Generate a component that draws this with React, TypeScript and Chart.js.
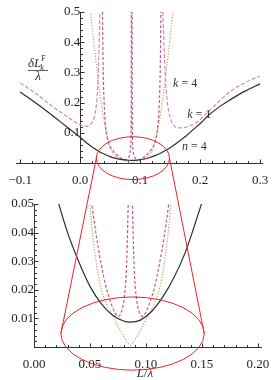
import React, { useEffect, useRef } from "react";
import { Chart, registerables } from "chart.js";
Chart.register(...registerables);

// ---- data ----
const blackX = [-0.1, -0.075, -0.05, -0.025, 0, 0.01, 0.02, 0.03, 0.04, 0.05, 0.06, 0.07, 0.08, 0.086, 0.095, 0.105, 0.115, 0.125, 0.135, 0.145, 0.155, 0.165, 0.178, 0.19, 0.2, 0.217, 0.235, 0.25, 0.275, 0.3];
const blackY = [0.235, 0.2, 0.163, 0.124, 0.085, 0.068, 0.053, 0.04, 0.0298, 0.0212, 0.0152, 0.0112, 0.0091, 0.0087, 0.0094, 0.0124, 0.0175, 0.0243, 0.033, 0.0445, 0.057, 0.072, 0.092, 0.113, 0.13, 0.163, 0.19, 0.209, 0.238, 0.262];

const dotX = [0.015, 0.02, 0.025, 0.03, 0.035, 0.04, 0.045, 0.049, 0.054, 0.059, 0.065, 0.0705, 0.075, 0.08, 0.083, 0.086, 0.089, 0.092, 0.097, 0.1015, 0.107, 0.113, 0.118, 0.123, 0.127, 0.132, 0.137, 0.142, 0.147, 0.152, 0.157];
const dotY = [0.54, 0.45, 0.36, 0.28, 0.2, 0.14, 0.09, 0.055, 0.034, 0.022, 0.0148, 0.0108, 0.0072, 0.0038, 0.0018, 0.0006, 0.0018, 0.0038, 0.0072, 0.0108, 0.0148, 0.022, 0.034, 0.055, 0.09, 0.14, 0.2, 0.28, 0.36, 0.45, 0.54];

const k1LeftX = [-0.1, -0.075, -0.05, -0.025, -0.01, 0, 0.008, 0.015, 0.02, 0.025, 0.028, 0.03, 0.032, 0.033, 0.034];
const k1LeftY = [0.265, 0.232, 0.193, 0.158, 0.138, 0.126, 0.121, 0.124, 0.135, 0.165, 0.215, 0.29, 0.41, 0.5, 0.6];
const k1RightX = [0.137, 0.138, 0.14, 0.142, 0.145, 0.15, 0.156, 0.163, 0.175, 0.195, 0.217, 0.25, 0.275, 0.3];
const k1RightY = [0.6, 0.5, 0.38, 0.29, 0.21, 0.152, 0.125, 0.116, 0.118, 0.136, 0.176, 0.236, 0.266, 0.288];

const k4LeftX = [0.0368, 0.0375, 0.0385, 0.04, 0.042, 0.045, 0.048, 0.052, 0.056, 0.06, 0.064, 0.068, 0.072, 0.075, 0.078, 0.0805, 0.0825, 0.084, 0.085, 0.0855];
const k4LeftY = [0.6, 0.45, 0.3, 0.2, 0.13, 0.085, 0.063, 0.049, 0.038, 0.029, 0.0215, 0.0162, 0.0122, 0.0107, 0.0122, 0.017, 0.027, 0.048, 0.12, 0.6];
const k4RightX = [0.0865, 0.087, 0.088, 0.0895, 0.0915, 0.094, 0.097, 0.1, 0.104, 0.108, 0.112, 0.116, 0.12, 0.124, 0.127, 0.13, 0.132, 0.1335, 0.1345, 0.1352];
const k4RightY = [0.6, 0.12, 0.048, 0.027, 0.017, 0.0122, 0.0107, 0.0122, 0.0162, 0.0215, 0.029, 0.038, 0.049, 0.063, 0.085, 0.13, 0.2, 0.3, 0.45, 0.6];

// ---- ticks ----
const topXTicks = [-0.1, 0, 0.1, 0.2, 0.3];
const topXLabels = ["\u22120.1", "0.0", "0.1", "0.2", "0.3"];
const topYTicks = [0.1, 0.2, 0.3, 0.4, 0.5];
const topYLabels = ["0.1", "0.2", "0.3", "0.4", "0.5"];
const botXTicks = [0, 0.05, 0.1, 0.15, 0.2];
const botXLabels = ["0.00", "0.05", "0.10", "0.15", "0.20"];
const botYTicks = [0.01, 0.02, 0.03, 0.04, 0.05];
const botYLabels = ["0.01", "0.02", "0.03", "0.04", "0.05"];

// zoom annotation (data coordinates of each plot)
const topZoom = { cx: 0.088, cy: 0.016, rx: 0.061, ry: 0.071 };
const botZoom = { cx: 0.088, cy: 0.0047, rx: 0.064, ry: 0.0128 };

const SERIF = '"Liberation Serif", "DejaVu Serif", serif';

function pts(xs: number[], ys: number[]) {
  return xs.map((x, i) => ({ x, y: ys[i] }));
}

function datasets() {
  return [
    {
      data: pts(blackX, blackY),
      borderColor: "#2e2e2e",
      borderWidth: 1.2,
    },
    {
      data: [...pts(k4LeftX, k4LeftY), { x: 0.086, y: null }, ...pts(k4RightX, k4RightY)],
      borderColor: "#c4558f",
      borderWidth: 1.2,
      borderDash: [3, 2],
    },
    {
      data: [...pts(k1LeftX, k1LeftY), { x: 0.086, y: null }, ...pts(k1RightX, k1RightY)],
      borderColor: "#d888b6",
      borderWidth: 1.2,
      borderDash: [4, 2],
    },
    {
      data: pts(dotX, dotY),
      borderColor: "#bba75a",
      borderWidth: 1.2,
      borderDash: [1.2, 1.6],
    },
  ].map((d) => ({
    ...d,
    pointRadius: 0,
    fill: false,
    cubicInterpolationMode: "monotone" as const,
    spanGaps: false,
  }));
}

const axesPlugin = {
  id: "mmaAxes",
  beforeDatasetsDraw(chart: any, _args: any, opts: any) {
    const { ctx, chartArea } = chart;
    const xs = chart.scales.x;
    const ys = chart.scales.y;
    const x0 = Math.round(xs.getPixelForValue(0)) + 0.5;
    const y0 = Math.round(ys.getPixelForValue(0)) + 0.5;
    ctx.save();
    ctx.strokeStyle = "#333";
    ctx.lineWidth = 1;
    ctx.beginPath();
    ctx.moveTo(chartArea.left, y0);
    ctx.lineTo(chartArea.right, y0);
    ctx.moveTo(x0, chartArea.top);
    ctx.lineTo(x0, y0);
    // x ticks
    const nx0 = Math.ceil(xs.min / opts.xMinor - 1e-6);
    const nx1 = Math.floor(xs.max / opts.xMinor + 1e-6);
    for (let n = nx0; n <= nx1; n++) {
      const v = n * opts.xMinor;
      const major = n % opts.xEvery === 0;
      const p = Math.round(xs.getPixelForValue(v)) + 0.5;
      ctx.moveTo(p, y0);
      ctx.lineTo(p, y0 - (major ? 4 : 2.5));
    }
    const ny1 = Math.floor(ys.max / opts.yMinor + 1e-6);
    for (let n = 1; n <= ny1; n++) {
      const v = n * opts.yMinor;
      const major = n % opts.yEvery === 0;
      const p = Math.round(ys.getPixelForValue(v)) + 0.5;
      ctx.moveTo(x0, p);
      ctx.lineTo(x0 + (major ? 4 : 2.5), p);
    }
    ctx.stroke();
    ctx.restore();
  },
};

const topTextPlugin = {
  id: "topText",
  afterDraw(chart: any) {
    const { ctx } = chart;
    const xs = chart.scales.x;
    const ys = chart.scales.y;
    ctx.save();
    ctx.fillStyle = "#333";
    ctx.textBaseline = "alphabetic";
    ctx.textAlign = "left";
    // y axis title: δL_k^F / λ
    ctx.font = `italic 13px ${SERIF}`;
    ctx.fillText("\u03B4L", 28, 67);
    const w = ctx.measureText("\u03B4L").width;
    ctx.font = `italic 8px ${SERIF}`;
    ctx.fillText("k", 28 + w - 1, 70);
    ctx.font = `8px ${SERIF}`;
    ctx.fillText("F", 28 + w, 61);
    ctx.strokeStyle = "#333";
    ctx.lineWidth = 0.8;
    ctx.beginPath();
    ctx.moveTo(28, 70.5);
    ctx.lineTo(48, 70.5);
    ctx.stroke();
    ctx.font = `italic 13px ${SERIF}`;
    ctx.textAlign = "center";
    ctx.fillText("\u03BB", 38, 80);
    ctx.textAlign = "left";
    // curve labels
    const labels = [
      { v: "k", r: " = 4", x: 0.155, y: 0.252 },
      { v: "k", r: " = 1", x: 0.1785, y: 0.149 },
      { v: "n", r: " = 4", x: 0.17, y: 0.043 },
    ];
    for (const l of labels) {
      const px = xs.getPixelForValue(l.x);
      const py = ys.getPixelForValue(l.y);
      ctx.font = `italic 12px ${SERIF}`;
      ctx.fillText(l.v, px, py);
      const wv = ctx.measureText(l.v).width;
      ctx.font = `12px ${SERIF}`;
      ctx.fillText(l.r, px + wv, py);
    }
    ctx.restore();
  },
};

const botTextPlugin = {
  id: "botText",
  afterDraw(chart: any) {
    const { ctx } = chart;
    const xs = chart.scales.x;
    const cx = xs.getPixelForValue(0.099);
    const by = chart.chartArea.bottom + 30;
    ctx.save();
    ctx.fillStyle = "#333";
    ctx.textBaseline = "alphabetic";
    ctx.textAlign = "left";
    ctx.font = `italic 13px ${SERIF}`;
    const a = ctx.measureText("L").width;
    ctx.font = `13px ${SERIF}`;
    const b = ctx.measureText("/").width;
    ctx.font = `italic 13px ${SERIF}`;
    const c = ctx.measureText("\u03BB").width;
    let x = cx - (a + b + c) / 2;
    ctx.fillText("L", x, by);
    x += a;
    ctx.font = `13px ${SERIF}`;
    ctx.fillText("/", x, by);
    x += b;
    ctx.font = `italic 13px ${SERIF}`;
    ctx.fillText("\u03BB", x, by);
    ctx.restore();
  },
};

function makeConfig(
  xMin: number, xMax: number, yMax: number,
  xTicks: number[], xLabels: string[], yTicks: number[], yLabels: string[],
  padding: any, axesOpts: any, extra: any
) {
  const tickFont = { family: SERIF, size: 13 };
  return {
    type: "line" as const,
    data: { datasets: datasets() },
    plugins: [axesPlugin, extra],
    options: {
      animation: false as const,
      responsive: false,
      devicePixelRatio: 1,
      parsing: true,
      layout: { padding },
      plugins: {
        legend: { display: false },
        tooltip: { enabled: false },
        mmaAxes: axesOpts,
      },
      scales: {
        x: {
          type: "linear" as const,
          min: xMin,
          max: xMax,
          position: { y: 0 },
          grid: { display: false },
          border: { display: false },
          afterBuildTicks: (s: any) => {
            s.ticks = xTicks.map((v) => ({ value: v }));
          },
          ticks: {
            autoSkip: false,
            maxRotation: 0,
            padding: 2,
            color: "#1e1e1e",
            font: tickFont,
            callback: (_v: any, i: number) => xLabels[i],
          },
        },
        y: {
          type: "linear" as const,
          min: 0,
          max: yMax,
          position: { x: 0 },
          grid: { display: false },
          border: { display: false },
          afterBuildTicks: (s: any) => {
            s.ticks = yTicks.map((v) => ({ value: v }));
          },
          ticks: {
            autoSkip: false,
            padding: 4,
            color: "#1e1e1e",
            font: tickFont,
            callback: (_v: any, i: number) => yLabels[i],
          },
        },
      },
    },
  };
}

export default function App() {
  const topRef = useRef<HTMLCanvasElement>(null);
  const botRef = useRef<HTMLCanvasElement>(null);
  const overRef = useRef<HTMLCanvasElement>(null);

  useEffect(() => {
    const top = new Chart(
      topRef.current as HTMLCanvasElement,
      makeConfig(-0.107, 0.305, 0.5, topXTicks, topXLabels, topYTicks, topYLabels,
        { left: 16, right: 12, top: 12, bottom: 27 },
        { xMinor: 0.02, xEvery: 5, yMinor: 0.02, yEvery: 5 }, topTextPlugin) as any
    );
    const bot = new Chart(
      botRef.current as HTMLCanvasElement,
      makeConfig(0, 0.2036, 0.05, botXTicks, botXLabels, botYTicks, botYLabels,
        { left: 34, right: 13, top: 14, bottom: 33 },
        { xMinor: 0.01, xEvery: 5, yMinor: 0.002, yEvery: 5 }, botTextPlugin) as any
    );

    const oc = overRef.current as HTMLCanvasElement;
    const o = oc.getContext("2d") as CanvasRenderingContext2D;
    o.clearRect(0, 0, oc.width, oc.height);
    const ell = (ch: any, z: any, dy: number) => {
      const xs = ch.scales.x;
      const ys = ch.scales.y;
      const cx = xs.getPixelForValue(z.cx);
      const cy = ys.getPixelForValue(z.cy) + dy;
      const rx = xs.getPixelForValue(z.cx + z.rx) - xs.getPixelForValue(z.cx);
      const ry = ys.getPixelForValue(z.cy) - ys.getPixelForValue(z.cy + z.ry);
      return { cx, cy, rx, ry };
    };
    const a = ell(top, topZoom, 0);
    const b = ell(bot, botZoom, 190);
    o.strokeStyle = "#ee2222";
    o.lineWidth = 1;
    o.beginPath();
    o.ellipse(a.cx, a.cy, a.rx, a.ry, 0, 0, Math.PI * 2);
    o.stroke();
    o.beginPath();
    o.ellipse(b.cx, b.cy, b.rx, b.ry, 0, 0, Math.PI * 2);
    o.stroke();
    o.beginPath();
    o.moveTo(a.cx - a.rx, a.cy);
    o.lineTo(b.cx - b.rx, b.cy);
    o.moveTo(a.cx + a.rx, a.cy);
    o.lineTo(b.cx + b.rx, b.cy);
    o.stroke();

    return () => {
      top.destroy();
      bot.destroy();
    };
  }, []);

  return (
    <div style={{ position: "absolute", left: 0, top: 0, width: 275, height: 380, background: "#fff" }}>
      <canvas ref={topRef} width={275} height={190} style={{ position: "absolute", left: 0, top: 0 }} />
      <canvas ref={botRef} width={275} height={190} style={{ position: "absolute", left: 0, top: 190 }} />
      <canvas ref={overRef} width={275} height={380} style={{ position: "absolute", left: 0, top: 0, pointerEvents: "none" }} />
    </div>
  );
}
